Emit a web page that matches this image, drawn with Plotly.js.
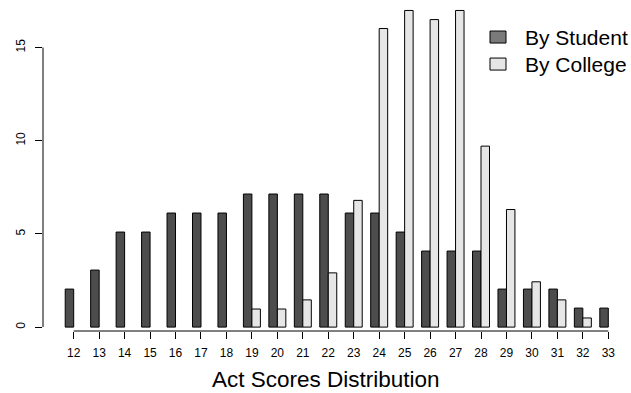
<!DOCTYPE html>
<html>
<head>
<meta charset="utf-8">
<script src="https://cdn.plot.ly/plotly-3.0.1.min.js"></script>
<style>html,body{margin:0;padding:0;background:#fff;}#chart{width:631px;height:393px;}</style>
</head>
<body>
<div id="chart"></div>
<script>
// Act scores (categories)
const scores = [12, 13, 14, 15, 16, 17, 18, 19, 20, 21, 22, 23, 24, 25, 26, 27, 28, 29, 30, 31, 32, 33];
// Percent distribution
const byStudent = [2.04, 3.06, 5.10, 5.10, 6.12, 6.12, 6.12, 7.14, 7.14, 7.14, 7.14, 6.12, 6.12, 5.10, 4.08, 4.08, 4.08, 2.04, 2.04, 2.04, 1.02, 1.02];
const byCollege = [0, 0, 0, 0, 0, 0, 0, 0.97, 0.97, 1.46, 2.91, 6.80, 16.02, 16.99, 16.50, 16.99, 9.71, 6.31, 2.43, 1.46, 0.49, 0];
const yTicks = [0, 5, 10, 15];
const seriesNames = ["By Student", "By College"];
const barColors = ["#4d4d4d", "#e6e6e6"];
const legendColors = ["#7a7a7a", "#e6e6e6"];

const font = "Liberation Sans, Arial, Helvetica, sans-serif";

function barTrace(vals, i) {
  return {type: "bar", x: scores, y: vals, name: seriesNames[i],
    marker: {color: barColors[i], line: {color: "#000", width: vals.map(v => v > 0 ? 1 : 0)}},
    showlegend: false, hoverinfo: "none"};
}
const traces = [barTrace(byStudent, 0), barTrace(byCollege, 1)];

const pxPerUnit = 25.457;
const plotW = 631 - 43;
const plotH = 330.7;
const xLeft = scores[0] - (73.7 - 43) / pxPerUnit;
const xRight = xLeft + plotW / pxPerUnit;

const shapes = [
  // R-style axis lines spanning first..last tick
  {type: "line", xref: "x", yref: "paper", x0: scores[0], x1: scores[scores.length - 1], y0: 0, y1: 0,
   line: {color: "#000", width: 1}},
  {type: "line", xref: "paper", yref: "y", x0: 0, x1: 0, y0: yTicks[0], y1: yTicks[yTicks.length - 1],
   line: {color: "#000", width: 1}}
];
const annotations = [
  {text: "Act Scores Distribution", xref: "paper", yref: "paper", x: (326 - 43) / plotW, y: -(379 - plotH) / plotH,
   xanchor: "center", yanchor: "middle", showarrow: false, font: {family: font, size: 22.5, color: "#000"}}
];
// manual legend (R style)
const legRows = [37, 64];
seriesNames.forEach((nm, i) => {
  const yc = legRows[i];
  shapes.push({type: "rect", xref: "paper", yref: "paper",
    x0: (490 - 43) / plotW, x1: (506 - 43) / plotW,
    y0: 1 - (yc - 6) / plotH, y1: 1 - (yc + 6) / plotH,
    fillcolor: legendColors[i], line: {color: "#000", width: 1}});
  annotations.push({text: nm, xref: "paper", yref: "paper", x: (523 - 43) / plotW, y: 1 - yc / plotH,
    xanchor: "left", yanchor: "middle", showarrow: false, font: {family: font, size: 21, color: "#000"}});
});

const layout = {
  width: 631, height: 393,
  margin: {l: 43, r: 0, t: 0, b: 393 - plotH},
  paper_bgcolor: "#fff", plot_bgcolor: "#fff",
  barmode: "group", bargap: 1 / 3, bargroupgap: 0,
  showlegend: false,
  font: {family: font, color: "#000"},
  xaxis: {range: [xLeft, xRight], tickvals: scores, ticktext: scores.map(String),
    ticks: "outside", ticklen: 7, tickcolor: "#000", tickwidth: 1, ticklabelstandoff: 4,
    showline: false, showgrid: false, zeroline: false,
    tickfont: {family: font, size: 12, color: "#000"}},
  yaxis: {range: [-(plotH - 326.8) / 18.62, 326.8 / 18.62], tickvals: yTicks, ticktext: yTicks.map(String),
    ticks: "outside", ticklen: 7, tickcolor: "#000", tickwidth: 1, tickangle: -90, ticklabelstandoff: 5,
    showline: false, showgrid: false, zeroline: false,
    tickfont: {family: font, size: 12, color: "#000"}},
  shapes: shapes,
  annotations: annotations
};

Plotly.newPlot("chart", traces, layout, {staticPlot: true, displayModeBar: false});
</script>
</body>
</html>
